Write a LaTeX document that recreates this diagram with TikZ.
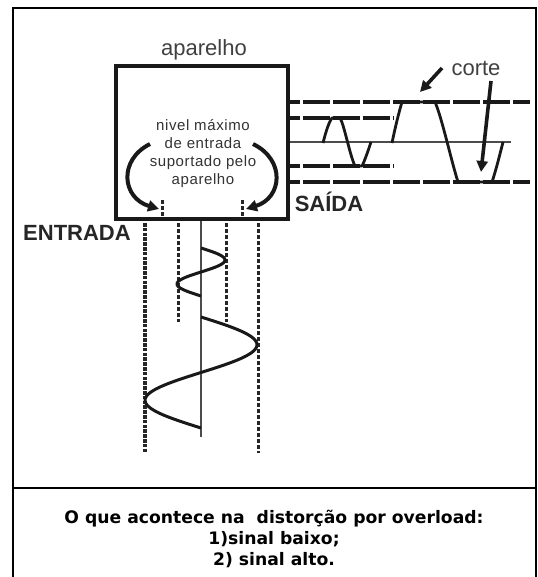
\documentclass[tikz,border=0pt]{standalone}
\usepackage{fontspec}
\setmainfont{Liberation Sans}
\newfontfamily\capfont{DejaVu Sans}
\usetikzlibrary{arrows.meta}
\tikzset{
  frameline/.style={draw=black,line width=2.2pt},
  devicebox/.style={draw=black!90,line width=4pt,minimum width=172pt,minimum height=153pt,inner sep=0pt},
  biglabel/.style={font=\fontsize{22}{24}\selectfont,text=black!75,inner sep=0pt},
  boldlabel/.style={font=\fontsize{22}{24}\selectfont\bfseries,text=black!85,inner sep=0pt},
  innerlabel/.style={font=\fontsize{15}{18.3}\selectfont\addfontfeature{LetterSpace=4},text=black!80,align=center,inner sep=0pt},
  caplabel/.style={font=\capfont\fontsize{17.2}{21}\selectfont\bfseries,align=center,inner sep=0pt},
  level/.style={draw=black!90,line width=4pt,dash pattern=on 27.5pt off 2.5pt,dash phase=17.3pt},
  axis/.style={draw=black!70,line width=1.3pt},
  wave/.style={draw=black!90,line width=3pt,line join=round},
  clipwave/.style={draw=black!90,line width=2.8pt,line join=round},
  dotsA/.style={draw=black!85,line width=4pt,dash pattern=on 3.5pt off 1.3pt},
  dotsB/.style={draw=black!85,line width=3pt,dash pattern=on 4pt off 2pt},
  curvearrow/.style={draw=black!90,line width=4pt,-{Triangle[length=11pt,width=11pt]}},
  cutarrow/.style={draw=black!90,line width=3.6pt,-{Triangle[length=11pt,width=11pt]}},
}
\begin{document}
\begin{tikzpicture}[x=1pt,y=-1pt]
\useasboundingbox (0,0) rectangle (537,577);
% frame
\coordinate (fTL) at (13,8);
\coordinate (fTR) at (537,8);
\coordinate (fBL) at (13,577);
\coordinate (fBR) at (536,577);
\coordinate (dL) at (13,488);
\coordinate (dR) at (537,488);
\draw[frameline] (fBL) -- (fTL) -- (fTR);
\draw[frameline] (536,8) -- (fBR);
\draw[frameline] (dL) -- (dR);
% device
\node[devicebox] (box) at (202,142.5) {};
\node[biglabel] (title) at (204,50) {aparelho};
\node[innerlabel] (inner) at (203,153.5) {nivel máximo\\de entrada\\suportado pelo\\aparelho};
% output levels
\foreach \y/\n in {102/a,118/b,142/c,166/d,182/e}{\coordinate (o\n) at (box.east |- 0,\y);}
\coordinate (oaEnd) at (530,102);
\coordinate (obEnd) at (394,118);
\coordinate (ocEnd) at (511,142);
\coordinate (odEnd) at (394,166);
\coordinate (oeEnd) at (530,182);
\draw[level] (oa) -- (oaEnd);
\draw[level] (ob) -- (obEnd);
\draw[level] (od) -- (odEnd);
\draw[level] (oe) -- (oeEnd);
\draw[axis] (oc) -- (ocEnd);
% clipped output waves
\draw[clipwave] (323,143) .. controls (326,131) and (329,122) .. (332,118) -- (340,118) .. controls (344,124) and (350,156) .. (355,166) -- (362,166) .. controls (365,160) and (368,151) .. (371,142);
\draw[clipwave] (392,143) .. controls (395,128) and (399,112) .. (402,102) -- (435,102) .. controls (442,118) and (451,160) .. (458,182) -- (492,182) .. controls (496,170) and (500,154) .. (503,142);
\node[biglabel] (corte) at (476,68) {corte};
\node[boldlabel] (saida) at (329,202) {SAÍDA};
\node[boldlabel] (entrada) at (77,233) {ENTRADA};
\coordinate (c1s) at (442,68);
\coordinate (c1e) at (420,92);
\coordinate (c2s) at (491,81);
\coordinate (c2e) at (481,172);
\draw[cutarrow] (c1s) -- (c1e);
\draw[cutarrow] (c2s) -- (c2e);
% arrows in the device
\coordinate (lS) at (150,144);
\coordinate (lE) at (159,209);
\coordinate (rS) at (253,144);
\coordinate (rE) at (246,209);
\draw[curvearrow] (lS) .. controls (118,160) and (122,198) .. (lE);
\draw[curvearrow] (rS) .. controls (286,160) and (282,198) .. (rE);
\draw[dotsB] (162,200) -- (162,218);
\draw[dotsB] (242,200) -- (242,218);
% input
\coordinate (i1s) at (145,223); \coordinate (i1e) at (145,453);
\coordinate (i2s) at (178,223); \coordinate (i2e) at (178,322);
\coordinate (i3s) at (box.south -| 201,0); \coordinate (i3e) at (201,437);
\coordinate (i4s) at (226,223); \coordinate (i4e) at (226,322);
\coordinate (i5s) at (258,223); \coordinate (i5e) at (258,453);
\draw[dotsA] (i1s) -- (i1e);
\draw[dotsB] (i2s) -- (i2e);
\draw[axis] (201,221) -- (i3e);
\draw[dotsB] (i4s) -- (i4e);
\draw[dotsB] (i5s) -- (i5e);
% input waves
\draw[wave] plot[domain=0:360,samples=73,variable=\t] ({201+24*sin(\t)},{248+\t/360*48});
\draw[wave] plot[domain=0:360,samples=73,variable=\t] ({201+56*sin(\t)},{317+\t/360*111});
% caption
\node[caplabel] (caption) at (274,539) {O que acontece na\ \ distorção por overload:\\1)sinal baixo;\\2) sinal alto.};
\end{tikzpicture}
\end{document}
